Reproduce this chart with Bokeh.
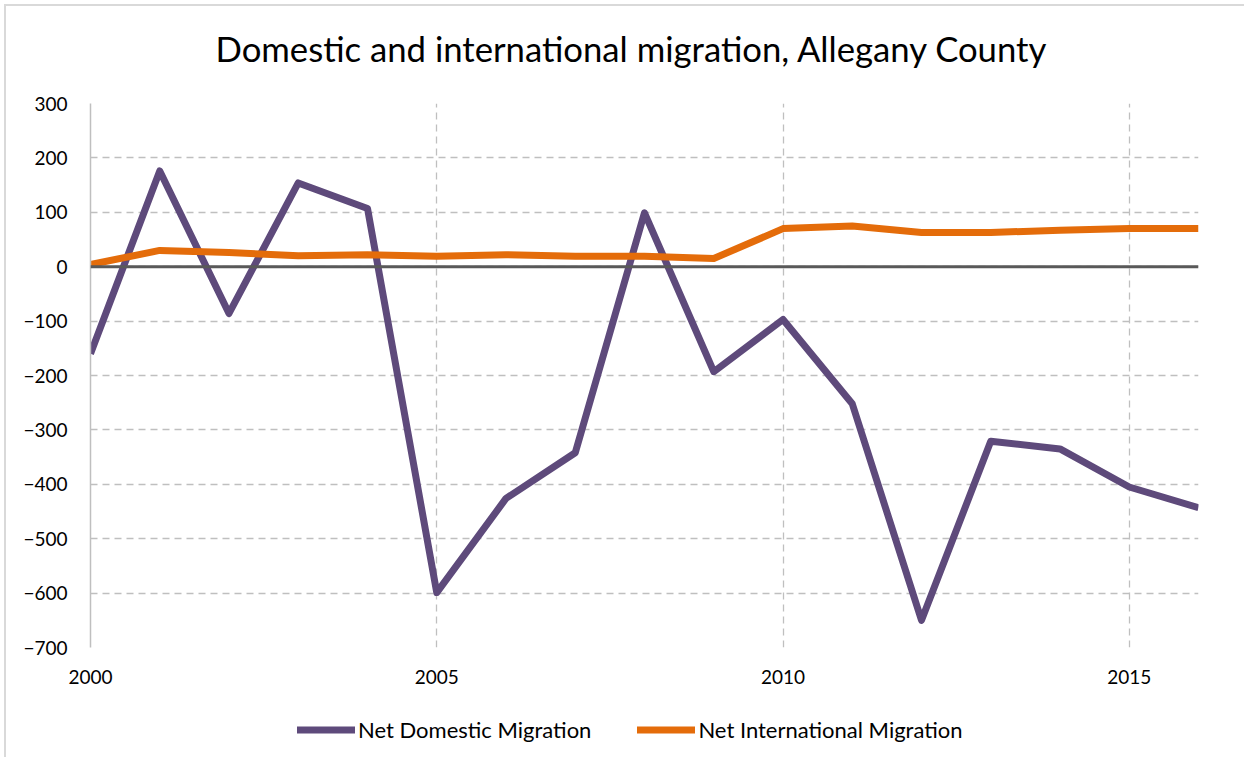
from bokeh.plotting import figure
from bokeh.layouts import column
from bokeh.models import Legend, LegendItem, Span, FixedTicker, Range1d, Title
from bokeh.embed import file_html
from bokeh.resources import INLINE

years = list(range(2000, 2017))
domestic = [-160, 176, -86, 154, 107, -599, -426, -342, 99, -193, -97, -252, -650, -321, -335, -405, -443]
international = [4, 30, 26, 20, 22, 19, 22, 19, 19, 15, 70, 75, 63, 63, 67, 70, 70]
x_ticks = [2000, 2005, 2010, 2015]
y_ticks = list(range(-700, 301, 100))
series_names = ["Net Domestic Migration", "Net International Migration"]
series_colors = ["#5E4A7B", "#E46C0A"]

FONT = "Lato"
p = figure(frame_width=1108, frame_height=544, output_backend="svg", toolbar_location=None,
           title=None,
           x_range=Range1d(2000, 2016), y_range=Range1d(-700, 300),
           min_border_left=84, min_border_right=46, min_border_top=97, min_border_bottom=50)
p.outline_line_color = None

spacer = Title(text=" ", text_font_size="10px", standoff=22)
p.add_layout(spacer, "above")
title = Title(text="Domestic and international migration, Allegany County",
              align="left", offset=125, standoff=0, vertical_align="bottom",
              text_font=FONT, text_font_size="34.7px", text_font_style="normal",
              text_color="#000000")
p.add_layout(title, "above")

# grids
p.xgrid.ticker = FixedTicker(ticks=x_ticks)
p.ygrid.ticker = FixedTicker(ticks=y_ticks)
for g in (p.xgrid, p.ygrid):
    g.grid_line_color = "#BFBFBF"
    g.grid_line_dash = "7 5"
    g.grid_line_width = 1.3

p.xaxis.ticker = FixedTicker(ticks=x_ticks)
p.yaxis.ticker = FixedTicker(ticks=y_ticks)
for ax in (p.xaxis, p.yaxis):
    ax.major_tick_line_color = None
    ax.minor_tick_line_color = None
    ax.major_label_text_font = FONT
    ax.major_label_text_font_size = "19px"
    ax.major_label_text_color = "#000000"
p.xaxis.axis_line_color = None
p.xaxis.major_label_standoff = 16
p.yaxis.axis_line_color = "#BFBFBF"
p.yaxis.axis_line_width = 1.5
p.yaxis.major_label_standoff = 17

p.add_layout(Span(location=0, dimension="width", line_color="#595959", line_width=3))

p.line(years, domestic, line_color=series_colors[0], line_width=7, line_join="round")
p.line(years, international, line_color=series_colors[1], line_width=7, line_join="round")

# legend strip below the chart (its ranges keep the series out of view; only the legend shows)
lg = figure(width=1238, height=60, output_backend="svg", toolbar_location=None,
            x_range=Range1d(0, 1), y_range=Range1d(0, 1),
            x_axis_type=None, y_axis_type=None,
            min_border_left=0, min_border_right=0, min_border_top=0, min_border_bottom=0)
lg.grid.visible = False
lg.outline_line_color = None
items = []
for name, col, vals in zip(series_names, series_colors, [domestic, international]):
    r = lg.line(years, vals, line_color=col, line_width=7, line_cap="round")
    items.append(LegendItem(label=name, renderers=[r]))
legend = Legend(items=items, orientation="horizontal", location=(207, 14),
                label_text_font=FONT, label_text_font_size="22px", label_text_color="#000000",
                glyph_width=58, glyph_height=25, label_height=25, label_standoff=3,
                spacing=46, border_line_alpha=0, background_fill_alpha=0,
                margin=0, padding=0)
lg.add_layout(legend, "center")

layout = column(p, lg, spacing=0,
                styles={"margin-left": "4px", "margin-top": "4px",
                        "border-left": "2px solid #D9D9D9", "border-top": "2px solid #D9D9D9"})

open("out.html", "w").write(file_html(layout, INLINE))
